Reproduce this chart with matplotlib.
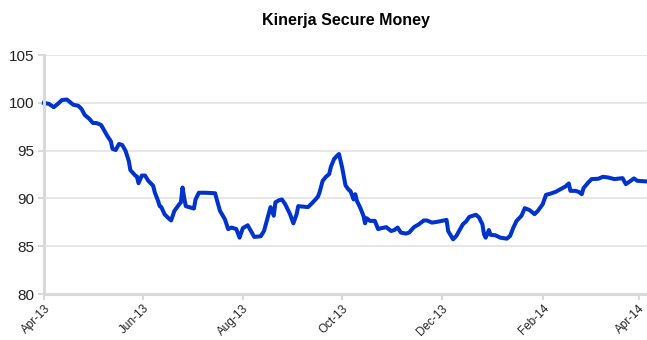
import numpy as np
import pandas as pd
import matplotlib
matplotlib.use("Agg")
import matplotlib.pyplot as plt
import matplotlib.dates as mdates

plt.rcParams['font.family'] = ['Liberation Sans', 'DejaVu Sans']

# days since 1 Apr 2013
day_offset = [0, 3, 6, 9, 11, 14, 16, 18, 21, 23, 25, 28, 30, 32, 35, 37, 39, 41, 42, 44,
              46, 48, 50, 52, 53, 56, 57, 58, 60, 62, 64, 67, 68, 70, 71, 72, 74, 76, 78, 80,
              83, 84, 85, 86, 87, 89, 92, 93, 95, 99, 105, 106, 108, 111, 113, 115, 118, 120, 122, 125,
              127, 129, 133, 135, 137, 139, 141, 142, 144, 146, 148, 151, 153, 155, 156, 159, 162, 165, 168, 169,
              171, 173, 175, 176, 178, 180, 181, 183, 185, 187, 188, 190, 191, 192, 194, 196, 197, 198, 200, 203,
              205, 207, 210, 213, 215, 217, 219, 222, 224, 227, 230, 233, 235, 238, 241, 244, 247, 248, 251, 253,
              257, 259, 261, 265, 267, 269, 270, 271, 273, 274, 277, 280, 284, 286, 288, 290, 293, 295, 298, 301,
              303, 306, 308, 311, 314, 317, 320, 322, 323, 326, 328, 330, 331, 334, 336, 340, 343, 346, 350, 355,
              357, 360, 362, 364, 370]
nav = [100.0, 99.9, 99.55, 99.97, 100.3, 100.35, 100.07, 99.8, 99.7, 99.37, 98.74, 98.3, 97.9, 97.9, 97.7, 97.1, 96.5, 96.0, 95.2, 95.07,
       95.7, 95.6, 95.0, 93.95, 92.97, 92.4, 92.3, 91.6, 92.4, 92.4, 91.85, 91.33, 90.63, 89.75, 89.2, 89.1, 88.35, 88.0, 87.7, 88.7,
       89.4, 89.6, 91.15, 90.1, 89.2, 89.1, 88.95, 89.9, 90.6, 90.6, 90.55, 89.9, 88.7, 87.83, 86.8, 86.96, 86.8, 85.9, 86.9, 87.2,
       86.6, 85.98, 86.05, 86.6, 87.83, 89.1, 88.2, 89.6, 89.8, 89.9, 89.4, 88.35, 87.4, 88.35, 89.2, 89.15, 89.1, 89.6, 90.17, 90.6,
       91.85, 92.27, 92.55, 93.3, 94.13, 94.5, 94.65, 93.2, 91.37, 90.9, 90.8, 89.9, 90.45, 89.75, 89.05, 88.2, 87.4, 87.94, 87.66, 87.66,
       86.8, 86.9, 87.0, 86.6, 86.7, 86.96, 86.43, 86.33, 86.43, 87.0, 87.3, 87.7, 87.7, 87.48, 87.55, 87.66, 87.76, 86.6, 85.73, 86.08,
       87.3, 87.6, 88.08, 88.3, 88.0, 87.3, 86.26, 85.9, 86.7, 86.2, 86.15, 85.9, 85.8, 86.08, 86.96, 87.66, 88.2, 88.99, 88.78, 88.36,
       88.7, 89.4, 90.38, 90.52, 90.7, 90.98, 91.26, 91.57, 90.8, 90.8, 90.7, 90.45, 91.08, 91.68, 92.03, 92.06, 92.27, 92.2, 92.03, 92.13,
       91.5, 91.85, 92.1, 91.85, 91.78]

start = pd.Timestamp('2013-04-01')
dates = start + pd.to_timedelta(day_offset, unit='D')

fig = plt.figure(figsize=(6.47, 3.4), dpi=100)
ax = fig.add_axes([0.068, 0.135, 0.932, 0.703])

ax.plot(dates, nav, color='#0033cc', linewidth=2.9, solid_joinstyle='round', clip_on=False)

ax.set_ylim(80, 105)
ax.set_yticks(np.arange(80, 106, 5))
ax.set_xlim(start, start + pd.Timedelta(days=370))
ax.xaxis.set_major_locator(mdates.MonthLocator(bymonth=[2, 4, 6, 8, 10, 12]))
ax.xaxis.set_major_formatter(mdates.DateFormatter('%b-%y'))

ax.grid(axis='y', color='#e3e3e3', linewidth=1.2)
ax.set_axisbelow(True)
for s in ['top', 'right']:
    ax.spines[s].set_visible(False)
for s in ['left', 'bottom']:
    ax.spines[s].set_color('#d9d9d9')
    ax.spines[s].set_linewidth(2.2)

ax.tick_params(axis='y', colors='#d9d9d9', labelcolor='#222222', labelsize=11, length=4, width=1.5, pad=3)
ax.tick_params(axis='x', colors='#d9d9d9', labelcolor='#222222', labelsize=8.5, length=4, width=1.5, pad=2)
for lbl in ax.get_xticklabels():
    lbl.set_rotation(45)
    lbl.set_ha('right')
    lbl.set_rotation_mode('anchor')

ax.set_title('Kinerja Secure Money', fontsize=11.5, fontweight='bold', pad=22)

fig.savefig('out.png', dpi=100)
